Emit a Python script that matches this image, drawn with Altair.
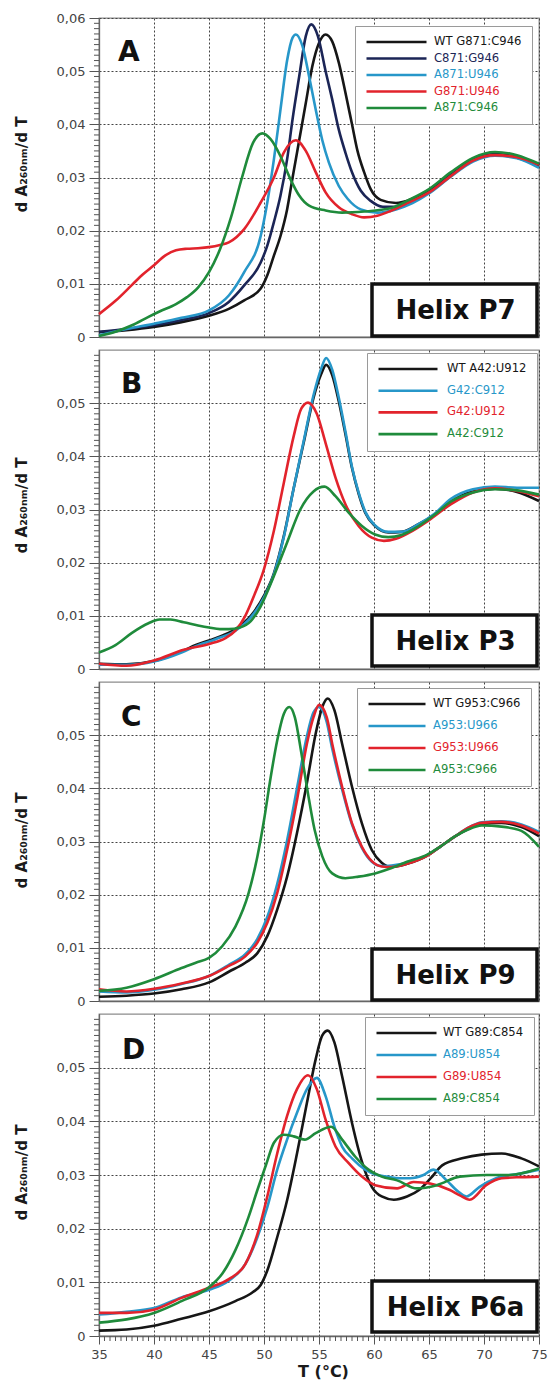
import altair as alt
import pandas as pd

# ---------------- axes / ticks ----------------
X_DOMAIN = [35, 75]
Y_DOMAIN = [0, 0.06]
X_TICKS = [35, 40, 45, 50, 55, 60, 65, 70, 75]
Y_TICKS_A = [0, 0.01, 0.02, 0.03, 0.04, 0.05, 0.06]
Y_TICKS = [0, 0.01, 0.02, 0.03, 0.04, 0.05]
Y_MINOR = [round(i * 0.001, 3) for i in range(61) if i % 10]
X_MINOR = [35 + 0.5 * i for i in range(81) if i % 10]

BLACK = "#161616"
NAVY = "#1b2556"
BLUE = "#2797c9"
RED = "#e2232c"
GREEN = "#1f8b3b"

# ---------------- Panel A : Helix P7 ----------------
A_names = ["WT G871:C946", "C871:G946", "A871:U946", "G871:U946", "A871:C946"]
A_colors = [BLACK, NAVY, BLUE, RED, GREEN]

A_wt_T = [35, 37.5, 40, 42.5, 45, 46.8, 48.2, 49.7, 50.3, 50.9, 51.5, 52.1, 52.6, 53.2, 53.8, 54.4, 55.0, 55.6, 56.2, 56.8, 57.4, 58.0, 58.5, 59.1, 59.7, 60.6, 62.0, 63.5, 65, 67, 69, 71, 73, 75]
A_wt_v = [0.0009, 0.0013, 0.0019, 0.0028, 0.0040, 0.0053, 0.0069, 0.0091, 0.0116, 0.0153, 0.019, 0.024, 0.030, 0.037, 0.044, 0.051, 0.0553, 0.0569, 0.0556, 0.0516, 0.046, 0.040, 0.035, 0.031, 0.0278, 0.0258, 0.0252, 0.026, 0.0275, 0.0305, 0.0332, 0.0344, 0.0338, 0.0322]

A_cg_T = [35, 37.5, 40, 42.5, 45, 46.8, 48.2, 49.7, 50.3, 50.9, 51.5, 52.1, 52.6, 53.2, 53.8, 54.3, 54.9, 55.6, 56.2, 56.8, 57.4, 58.0, 58.8, 59.7, 60.8, 62.0, 63.5, 65, 67, 69, 71, 73, 75]
A_cg_v = [0.001, 0.0015, 0.0022, 0.0032, 0.0045, 0.0066, 0.0097, 0.014, 0.0172, 0.0216, 0.0266, 0.0334, 0.041, 0.049, 0.0566, 0.0588, 0.0566, 0.050, 0.0447, 0.039, 0.0347, 0.031, 0.0275, 0.0256, 0.0245, 0.0245, 0.0255, 0.0272, 0.0305, 0.0333, 0.0343, 0.0337, 0.0322]

A_au_T = [35, 37.5, 40, 42.5, 45, 46.8, 48.2, 49.7, 50.3, 50.9, 51.5, 52.1, 52.6, 52.9, 53.5, 54.1, 54.7, 55.3, 55.9, 56.8, 57.6, 58.8, 60.3, 62.0, 63.5, 65, 67, 69, 71, 73, 75]
A_au_v = [0.0003, 0.0015, 0.0025, 0.0036, 0.005, 0.0078, 0.0122, 0.019, 0.0253, 0.0334, 0.0428, 0.052, 0.0563, 0.0569, 0.0547, 0.049, 0.0428, 0.037, 0.0328, 0.0284, 0.026, 0.024, 0.0234, 0.024, 0.0252, 0.027, 0.0302, 0.033, 0.0341, 0.0336, 0.0318]

A_gu_T = [35, 36.5, 38, 39, 40, 41, 42, 43, 44, 45, 46, 46.8, 48.2, 49.7, 50.9, 51.8, 52.9, 53.8, 54.7, 55.6, 56.8, 58.0, 59.1, 60.3, 61.5, 63, 65, 67, 69, 71, 73, 75]
A_gu_v = [0.0043, 0.0068, 0.0098, 0.0118, 0.0135, 0.0153, 0.0163, 0.0166, 0.0167, 0.0169, 0.0173, 0.0178, 0.0203, 0.0253, 0.030, 0.0347, 0.037, 0.035, 0.031, 0.0272, 0.0244, 0.0231, 0.0225, 0.0228, 0.0237, 0.0252, 0.0272, 0.0303, 0.0332, 0.0342, 0.0338, 0.0324]

A_ac_T = [35, 36.5, 38, 39.5, 40.5, 42, 43, 44, 45, 46, 47, 48, 49, 49.85, 50.6, 51.5, 52.4, 53.2, 54.1, 55.6, 57.1, 59.1, 61.5, 63, 65, 67, 69, 71, 73, 75]
A_ac_v = [0.0002, 0.001, 0.0022, 0.0038, 0.0048, 0.0062, 0.0075, 0.0093, 0.0122, 0.0165, 0.0225, 0.030, 0.0365, 0.0383, 0.0372, 0.034, 0.0297, 0.0266, 0.0247, 0.0238, 0.0234, 0.0236, 0.0242, 0.0256, 0.0278, 0.031, 0.0337, 0.0348, 0.0342, 0.0326]

# ---------------- Panel B : Helix P3 ----------------
B_names = ["WT A42:U912", "G42:C912", "G42:U912", "A42:C912"]
B_colors = [BLACK, BLUE, RED, GREEN]

B_T = [35, 37.5, 40, 42.5, 43.8, 45.6, 47.4, 48.8, 50, 50.9, 51.8, 52.7, 53.6, 54.5, 55.2, 55.65, 56.2, 56.8, 57.4, 58.0, 58.6, 59.2, 60.1, 61.3, 62.5, 64, 65.5, 67, 69, 71, 73, 75]
B_wt_v = [0.001, 0.0009, 0.0015, 0.0033, 0.0045, 0.0058, 0.0075, 0.010, 0.0138, 0.018, 0.025, 0.034, 0.0425, 0.051, 0.0555, 0.0572, 0.0553, 0.0503, 0.0442, 0.0378, 0.033, 0.0294, 0.0269, 0.0257, 0.0258, 0.0272, 0.029, 0.0315, 0.0334, 0.0339, 0.0333, 0.0316]
B_gc_v = [0.0008, 0.0008, 0.0014, 0.0031, 0.0043, 0.0056, 0.0072, 0.0097, 0.0135, 0.0178, 0.0248, 0.034, 0.0428, 0.0515, 0.0565, 0.0585, 0.0563, 0.051, 0.0447, 0.038, 0.0332, 0.0296, 0.027, 0.0258, 0.0258, 0.0272, 0.0292, 0.032, 0.0338, 0.0343, 0.0341, 0.0341]

B_gu_T = [35, 37.5, 40, 42.7, 45, 46.5, 47.4, 48.3, 49.1, 50, 50.9, 51.8, 52.7, 53.4, 54.0, 54.8, 55.6, 56.5, 57.4, 58.6, 59.8, 60.9, 62, 63.5, 65, 67, 69, 71, 73, 75]
B_gu_v = [0.001, 0.0006, 0.0016, 0.0036, 0.0047, 0.0058, 0.0072, 0.010, 0.0138, 0.0188, 0.026, 0.035, 0.0438, 0.049, 0.0501, 0.048, 0.0425, 0.036, 0.031, 0.0269, 0.0247, 0.0241, 0.0245, 0.026, 0.028, 0.031, 0.0332, 0.034, 0.0335, 0.0325]

B_ac_T = [35, 36.5, 38, 39.5, 40.5, 41.5, 42.7, 44, 45, 46, 46.8, 47.8, 48.8, 49.7, 50.9, 52.1, 53.3, 54.5, 55.5, 56.5, 57.7, 58.9, 60.1, 61.3, 62.5, 64, 65.5, 67, 69, 71, 73, 75]
B_ac_v = [0.0031, 0.0045, 0.0068, 0.0086, 0.0093, 0.0093, 0.0088, 0.0082, 0.0078, 0.0075, 0.0075, 0.0078, 0.009, 0.0118, 0.0175, 0.0238, 0.030, 0.0334, 0.0343, 0.0325, 0.0294, 0.0269, 0.0253, 0.0248, 0.0252, 0.0268, 0.029, 0.0315, 0.0332, 0.0338, 0.0336, 0.0328]

# ---------------- Panel C : Helix P9 ----------------
C_names = ["WT G953:C966", "A953:U966", "G953:U966", "A953:C966"]
C_colors = [BLACK, BLUE, RED, GREEN]

C_T = [35, 37.5, 40, 42.5, 45, 46.8, 48.3, 49.4, 50.3, 51.2, 52.1, 53.0, 53.9, 54.7, 55.3, 55.8, 56.4, 57.1, 58.0, 58.9, 59.8, 60.7, 61.6, 63, 64.8, 66, 67.4, 68.5, 69.8, 71.6, 73.4, 75]
C_wt_v = [0.0008, 0.001, 0.0014, 0.0022, 0.0035, 0.0055, 0.0072, 0.009, 0.0122, 0.0172, 0.0234, 0.0316, 0.041, 0.0503, 0.0553, 0.0569, 0.0547, 0.0484, 0.0403, 0.0334, 0.0284, 0.026, 0.0252, 0.0258, 0.0273, 0.029, 0.031, 0.0323, 0.0333, 0.0335, 0.0327, 0.031]

C_T2 = [35, 37.5, 40, 42.5, 45, 46.8, 48.3, 49.4, 50.3, 51.2, 52.1, 53.0, 53.9, 54.5, 55.0, 55.7, 56.2, 57.1, 58.0, 58.9, 59.8, 60.7, 61.6, 63, 64.8, 66, 67.4, 68.5, 69.8, 71.6, 73.4, 75]
C_au_v = [0.0018, 0.0016, 0.0021, 0.0032, 0.0047, 0.0068, 0.0088, 0.0117, 0.0158, 0.022, 0.0302, 0.040, 0.0498, 0.0543, 0.0553, 0.0525, 0.0475, 0.0398, 0.0332, 0.0288, 0.0262, 0.0254, 0.0255, 0.026, 0.0274, 0.029, 0.031, 0.0325, 0.0336, 0.0338, 0.0332, 0.0318]
C_gu_v = [0.0022, 0.0018, 0.0023, 0.0033, 0.0047, 0.0066, 0.0084, 0.011, 0.0147, 0.0203, 0.0284, 0.0378, 0.0484, 0.0534, 0.0557, 0.0534, 0.0484, 0.0403, 0.0334, 0.029, 0.0263, 0.0253, 0.0252, 0.0258, 0.0273, 0.029, 0.031, 0.0325, 0.0335, 0.0337, 0.033, 0.0315]

C_ac_T = [35, 37.5, 40, 42.5, 43.8, 45, 46.2, 47.4, 48.6, 49.4, 50, 50.6, 51.2, 51.8, 52.3, 52.8, 53.4, 54.0, 54.6, 55.3, 56.2, 57.4, 58.6, 60.1, 61.6, 63, 64.8, 66, 67.4, 68.5, 69.8, 71.6, 73.4, 75]
C_ac_v = [0.0019, 0.0025, 0.0041, 0.0062, 0.0072, 0.0081, 0.0103, 0.014, 0.0203, 0.0272, 0.034, 0.042, 0.049, 0.054, 0.0553, 0.0534, 0.0466, 0.039, 0.0322, 0.0272, 0.024, 0.0231, 0.0234, 0.024, 0.025, 0.0262, 0.0275, 0.029, 0.031, 0.0322, 0.033, 0.0328, 0.032, 0.029]

# ---------------- Panel D : Helix P6a ----------------
D_names = ["WT G89:C854", "A89:U854", "G89:U854", "A89:C854"]
D_colors = [BLACK, BLUE, RED, GREEN]

D_wt_T = [35, 37.5, 40, 42.5, 45, 47.4, 49, 49.7, 50.3, 51.2, 52.1, 53.0, 53.9, 54.7, 55.3, 55.8, 56.4, 57.1, 58.0, 58.9, 59.8, 60.7, 61.8, 63, 64.1, 65.2, 66.2, 68.0, 69.8, 71.6, 73.4, 75]
D_wt_v = [0.001, 0.0012, 0.0019, 0.0032, 0.0046, 0.0065, 0.0082, 0.0095, 0.0122, 0.0184, 0.0253, 0.034, 0.0434, 0.0516, 0.056, 0.0569, 0.0547, 0.0484, 0.0397, 0.0325, 0.0278, 0.026, 0.0254, 0.026, 0.0272, 0.0295, 0.0318, 0.0331, 0.0338, 0.034, 0.0331, 0.0316]

D_au_T = [35, 37.5, 40, 42.5, 45, 46.8, 48.3, 49.4, 50.3, 51.2, 52.1, 53.0, 53.9, 54.8, 55.6, 56.4, 57.1, 58.0, 59.2, 60.3, 61.2, 62.3, 63.3, 64.5, 65.4, 66.6, 67.6, 68.4, 69.6, 71.1, 73.4, 75]
D_au_v = [0.004, 0.0045, 0.0052, 0.0072, 0.0086, 0.0103, 0.0134, 0.0184, 0.024, 0.031, 0.0366, 0.0416, 0.046, 0.0481, 0.0447, 0.039, 0.0353, 0.0331, 0.031, 0.030, 0.0297, 0.0294, 0.0294, 0.030, 0.031, 0.029, 0.027, 0.026, 0.0278, 0.0294, 0.0303, 0.031]

D_gu_T = [35, 37.5, 40, 42.5, 45, 46.8, 48.3, 49.4, 50.3, 51.2, 52.1, 53.0, 54.0, 54.8, 55.6, 56.5, 57.7, 58.9, 60.1, 62.1, 63.6, 65.1, 66.9, 67.8, 68.7, 70.2, 71.6, 73.4, 75]
D_gu_v = [0.0043, 0.0043, 0.0049, 0.0071, 0.009, 0.0106, 0.0134, 0.019, 0.026, 0.034, 0.041, 0.046, 0.0486, 0.046, 0.0403, 0.0353, 0.0322, 0.0297, 0.0281, 0.0275, 0.0287, 0.0284, 0.0272, 0.0262, 0.0254, 0.0281, 0.0294, 0.0296, 0.0297]

D_ac_T = [35, 37.5, 40, 42.5, 45, 46.2, 47.4, 48.6, 49.4, 50.2, 50.9, 51.8, 52.7, 53.7, 54.7, 56.1, 57.1, 58.3, 59.5, 60.7, 62.1, 63.9, 65.7, 67.8, 70.2, 72.3, 75]
D_ac_v = [0.0025, 0.0031, 0.0043, 0.0065, 0.0091, 0.0116, 0.016, 0.0222, 0.0272, 0.032, 0.036, 0.0375, 0.0372, 0.0366, 0.0378, 0.039, 0.0366, 0.0334, 0.031, 0.0297, 0.029, 0.0275, 0.0281, 0.0297, 0.030, 0.030, 0.0312]

Y_LABEL_EXPR = "datum.value == 0 ? '0' : replace(format(datum.value, '.2f'), '.', ',')"
FONT = "DejaVu Sans"
W = 440


def color_expr(names, colors):
    cols = ",".join("'%s'" % c for c in colors)
    nms = ",".join("'%s'" % n for n in names)
    return "[%s][indexof([%s], datum.value)]" % (cols, nms)


def make_panel(names, colors, curves, letter, helix, yticks, height, show_x,
               leg_x, leg_y, row_pad, sym_len, lab_off, letter_xy, box, title_y):
    rows = []
    for name, (ts, vs) in zip(names, curves):
        for t, v in zip(ts, vs):
            rows.append({"T": t, "v": v, "series": name})
    df = pd.DataFrame(rows)

    if show_x:
        x_axis = alt.Axis(values=X_TICKS, grid=True, title="T (°C)", labels=True,
                          ticks=True, tickSize=8, labelPadding=4, labelFlush=False,
                          titleX=224, titlePadding=2, titleFontSize=16)
    else:
        x_axis = alt.Axis(values=X_TICKS, grid=True, title=None, labels=False, ticks=False)

    y_axis = alt.Axis(values=yticks, grid=True, labelExpr=Y_LABEL_EXPR, tickSize=10,
                      labelPadding=4, title="d A₂₆₀ₙₘ/d T", titlePadding=27,
                      titleFontSize=15, titleY=title_y)

    x = alt.X("T:Q", scale=alt.Scale(domain=X_DOMAIN, nice=False, zero=False), axis=x_axis)
    y = alt.Y("v:Q", scale=alt.Scale(domain=Y_DOMAIN, nice=False), axis=y_axis)

    legend = alt.Legend(
        orient="none", legendX=leg_x, legendY=leg_y, title=None,
        symbolType="stroke", symbolSize=sym_len * sym_len, symbolStrokeWidth=2.6,
        clipHeight=12, rowPadding=row_pad, padding=10, labelOffset=lab_off,
        labelFont=FONT, labelFontSize=11.6, strokeColor="#9a9a9a", fillColor="white",
        labelColor={"expr": color_expr(names, colors)},
    )

    lines = alt.Chart(df).mark_line(strokeWidth=2.6, interpolate="monotone").encode(
        x=x, y=y,
        color=alt.Color("series:N", scale=alt.Scale(domain=names, range=colors), legend=legend),
    )

    minor_y = alt.Chart(pd.DataFrame({"v": Y_MINOR})).mark_rule(color="#555", strokeWidth=1).encode(
        y=alt.Y("v:Q"), x=alt.value(-5), x2=alt.value(0)
    )

    layers = [minor_y, lines]
    if show_x:
        minor_x = alt.Chart(pd.DataFrame({"T": X_MINOR})).mark_rule(color="#555", strokeWidth=1).encode(
            x=alt.X("T:Q"), y=alt.value(height), y2=alt.value(height + 5)
        )
        layers.append(minor_x)

    lab = pd.DataFrame({"t": [letter]})
    letter_mark = alt.Chart(lab).mark_text(
        font=FONT, fontSize=28, fontWeight="bold", align="left", baseline="alphabetic", color="#111"
    ).encode(text="t:N", x=alt.value(letter_xy[0]), y=alt.value(letter_xy[1]))

    hx = pd.DataFrame({"t": [helix]})
    x1, x2, y1, y2 = box
    box_mark = alt.Chart(hx).mark_rect(fill="white", stroke="#111", strokeWidth=3.5).encode(
        x=alt.value(x1), x2=alt.value(x2), y=alt.value(y1), y2=alt.value(y2)
    )
    helix_mark = alt.Chart(hx).mark_text(
        font=FONT, fontSize=26, fontWeight="bold", align="center", baseline="middle", color="#111"
    ).encode(text="t:N", x=alt.value((x1 + x2) / 2 + 1), y=alt.value((y1 + y2) / 2 + 1))

    layers += [box_mark, helix_mark, letter_mark]
    return alt.layer(*layers).properties(width=W, height=height)


pA = make_panel(A_names, A_colors,
                [(A_wt_T, A_wt_v), (A_cg_T, A_cg_v), (A_au_T, A_au_v), (A_gu_T, A_gu_v), (A_ac_T, A_ac_v)],
                "A", "Helix P7", Y_TICKS_A, 319, False, 256, 8, 4.5, 60, 6, (19, 43), (273, 438, 266, 318), 146)
pB = make_panel(B_names, B_colors,
                [(B_T, B_wt_v), (B_T, B_gc_v), (B_gu_T, B_gu_v), (B_ac_T, B_ac_v)],
                "B", "Helix P3", Y_TICKS, 319, False, 268, 3, 9.7, 59, 8, (22, 43), (273, 438, 265, 316), 155)
pC = make_panel(C_names, C_colors,
                [(C_T, C_wt_v), (C_T2, C_au_v), (C_T2, C_gu_v), (C_ac_T, C_ac_v)],
                "C", "Helix P9", Y_TICKS, 319, False, 258, 6, 10, 57, 6, (22, 44), (273, 438, 267, 318), 158)
pD = make_panel(D_names, D_colors,
                [(D_wt_T, D_wt_v), (D_au_T, D_au_v), (D_gu_T, D_gu_v), (D_ac_T, D_ac_v)],
                "D", "Helix P6a", Y_TICKS, 322, True, 266, 3, 10, 60, 5, (23, 45), (273, 438, 267, 318), 158)

chart = alt.vconcat(pA, pB, pC, pD, spacing=13, bounds="flush").resolve_scale(
    color="independent"
).resolve_legend(color="independent").properties(
    padding={"left": 5, "top": 3, "right": 0, "bottom": 1},
).configure_view(
    stroke="#8c8c8c", strokeWidth=1.3, fill="white"
).configure_axis(
    labelFont=FONT, labelFontSize=13, labelColor="#444", tickColor="#555",
    domainColor="#666", domainWidth=1.3, gridColor="#444", gridDash=[2, 2],
    gridWidth=1, gridOpacity=1, titleFont=FONT, titleFontWeight="bold", titleColor="#1a1a1a",
)

chart.save("out.html", embed_options={"renderer": "svg", "actions": False})
